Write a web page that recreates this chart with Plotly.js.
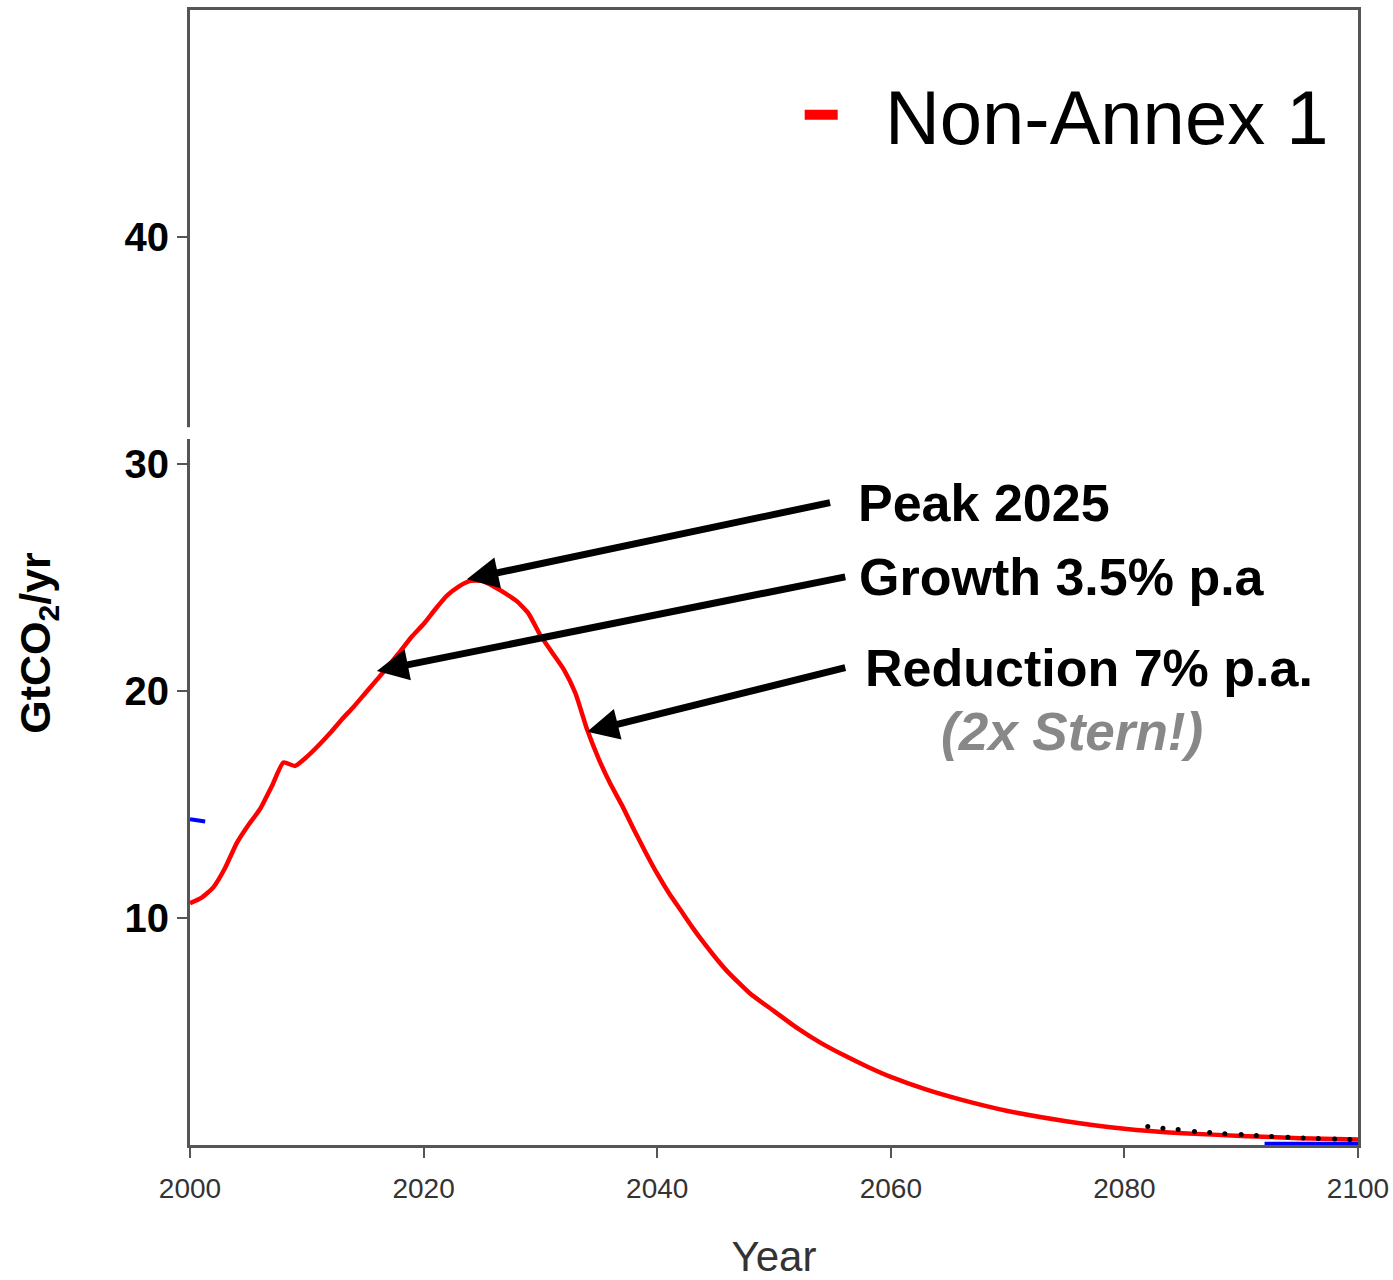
<!DOCTYPE html>
<html>
<head>
<meta charset="utf-8">
<script src="https://cdn.plot.ly/plotly-3.0.1.min.js"></script>
<style>
  html, body { margin: 0; padding: 0; background: #ffffff; }
  #chart { width: 1393px; height: 1280px; }
</style>
</head>
<body>
<div id="chart"></div>
<script>
// ---- Data ----
const years = [2000, 2001, 2002, 2003, 2004, 2005, 2006, 2007, 2008, 2009,
               2010, 2011, 2012, 2013, 2014, 2015, 2016, 2017, 2018, 2019,
               2020, 2021, 2022, 2023, 2024, 2025, 2026, 2027, 2028, 2029,
               2030, 2031, 2032, 2033, 2034, 2035, 2036, 2037, 2038, 2039,
               2040, 2041, 2042, 2043, 2044, 2045, 2046, 2048, 2050, 2052,
               2054, 2056, 2058, 2060, 2063, 2066, 2070, 2075, 2080, 2085,
               2090, 2095, 2100];
const nonAnnex1 = [10.65, 10.9, 11.35, 12.2, 13.3, 14.1, 14.8, 15.8, 16.85, 16.7,
                   17.1, 17.6, 18.15, 18.75, 19.3, 19.9, 20.5, 21.1, 21.75, 22.4,
                   22.95, 23.6, 24.2, 24.6, 24.85, 24.85, 24.6, 24.3, 23.95, 23.4,
                   22.45, 21.7, 20.95, 19.9, 18.3, 17.0, 15.9, 14.95, 13.9, 12.9,
                   11.95, 11.1, 10.35, 9.6, 8.9, 8.25, 7.65, 6.65, 5.9, 5.15,
                   4.5, 3.95, 3.45, 3.0, 2.45, 2.0, 1.5, 1.05, 0.72, 0.52,
                   0.4, 0.3, 0.24];

// remnants of other series visible in the picture
const blueStartYears = [2000, 2001.3];
const blueStartValues = [14.35, 14.25];
const blueEndYears = [2092, 2096, 2100];
const blueEndValues = [0.05, 0.05, 0.05];
const dotYears = [2082, 2083.3, 2084.6, 2086, 2087.3, 2088.6, 2090, 2091.3,
                  2092.6, 2094, 2095.3, 2096.6, 2098, 2099.3];
const dotValues = [0.82, 0.74, 0.68, 0.6, 0.55, 0.5, 0.46, 0.42,
                   0.37, 0.34, 0.31, 0.29, 0.26, 0.24];

const xTicks = [2000, 2020, 2040, 2060, 2080, 2100];
const yTicks = [10, 20, 30, 40];
const seriesName = 'Non-Annex 1';

const FONT = '"Liberation Sans", Arial, Helvetica, sans-serif';
const NBSP = '\u00a0';

const traces = [
  { x: blueEndYears, y: blueEndValues, mode: 'lines', showlegend: false,
    line: { color: '#0000ff', width: 4 }, hoverinfo: 'skip' },
  { x: years, y: nonAnnex1, mode: 'lines', name: seriesName, showlegend: false,
    line: { color: '#ff0000', width: 4.5, shape: 'spline', smoothing: 0.5 } },
  { x: blueStartYears, y: blueStartValues, mode: 'lines', showlegend: false,
    line: { color: '#0000ff', width: 4 }, hoverinfo: 'skip' },
  { x: dotYears, y: dotValues, mode: 'markers', showlegend: false,
    marker: { color: '#000000', size: 5 }, hoverinfo: 'skip' },
  // legend entry (thick red bar)
  { x: [null], y: [null], mode: 'lines', name: NBSP + NBSP + seriesName, showlegend: true,
    line: { color: '#ff0000', width: 10 } }
];

const boldText = { family: FONT, size: 52, color: '#000000', weight: 'bold' };
const arrowCommon = {
  xref: 'x', yref: 'y', axref: 'x', ayref: 'y',
  xanchor: 'left', yanchor: 'middle', align: 'left',
  showarrow: true, arrowhead: 2, arrowsize: 0.9, arrowwidth: 7,
  arrowcolor: '#000000', standoff: 0, font: boldText
};

const annotations = [
  Object.assign({}, arrowCommon, { text: '<b>Peak 2025</b>',
    x: 2023.7, y: 24.92, ax: 2054.8, ay: 28.3, borderpad: 27 }),
  Object.assign({}, arrowCommon, { text: '<b>Growth 3.5% p.a</b>',
    x: 2016.0, y: 20.88, ax: 2056.1, ay: 25.03, borderpad: 13 }),
  Object.assign({}, arrowCommon, { text: '<b>Reduction 7% p.a.</b>',
    x: 2034.0, y: 18.2, ax: 2056.1, ay: 21.03, borderpad: 19 }),
  { xref: 'x', yref: 'y', x: 2075.5, y: 18.22, xanchor: 'center', yanchor: 'middle',
    text: '<b><i>(2x Stern!)</i></b>', showarrow: false,
    font: { family: FONT, size: 53, color: '#888888' } },
  // y-axis title (sits below the plot centre in the reference)
  { xref: 'paper', yref: 'paper', x: -0.1301, y: 0.4425,
    xanchor: 'center', yanchor: 'middle', textangle: -90, showarrow: false,
    text: '<b>GtCO<sub>2</sub>/yr</b>',
    font: { family: FONT, size: 43, color: '#000000' } }
];

// small gap in the left axis line seen in the reference
const shapes = [
  { type: 'rect', xref: 'paper', yref: 'y', x0: -0.004, x1: 0.004, y0: 31.1, y1: 31.62,
    fillcolor: '#ffffff', line: { width: 0 }, layer: 'above' }
];

const layout = {
  width: 1393, height: 1280,
  paper_bgcolor: '#ffffff', plot_bgcolor: '#ffffff',
  margin: { l: 190, r: 35, t: 10, b: 135, pad: 0 },
  font: { family: FONT, color: '#000000' },
  showlegend: true,
  legend: {
    x: 0.522, xanchor: 'left', y: 0.957, yanchor: 'top',
    xref: 'paper', yref: 'paper', itemwidth: 33,
    bgcolor: 'rgba(0,0,0,0)', borderwidth: 0,
    font: { family: FONT, size: 76, color: '#000000' }
  },
  xaxis: {
    range: [2000, 2100], tickvals: xTicks, ticktext: xTicks.map(String),
    showgrid: false, zeroline: false,
    showline: true, linecolor: '#555555', linewidth: 3, mirror: true,
    ticks: 'outside', ticklen: 10, tickwidth: 2, tickcolor: '#555555',
    ticklabelstandoff: 6,
    tickfont: { family: FONT, size: 28, color: '#333333' },
    title: { text: 'Year', font: { family: FONT, size: 42, color: '#333333' }, standoff: 56 }
  },
  yaxis: {
    range: [0, 50], tickvals: yTicks, ticktext: yTicks.map(String),
    showgrid: false, zeroline: false,
    showline: true, linecolor: '#555555', linewidth: 3, mirror: true,
    ticks: 'outside', ticklen: 10, tickwidth: 2, tickcolor: '#555555',
    ticklabelstandoff: 0,
    tickfont: { family: FONT, size: 40, color: '#000000', weight: 'bold' }
  },
  shapes: shapes,
  annotations: annotations
};

Plotly.newPlot('chart', traces, layout, { displayModeBar: false, staticPlot: true });
</script>
</body>
</html>
